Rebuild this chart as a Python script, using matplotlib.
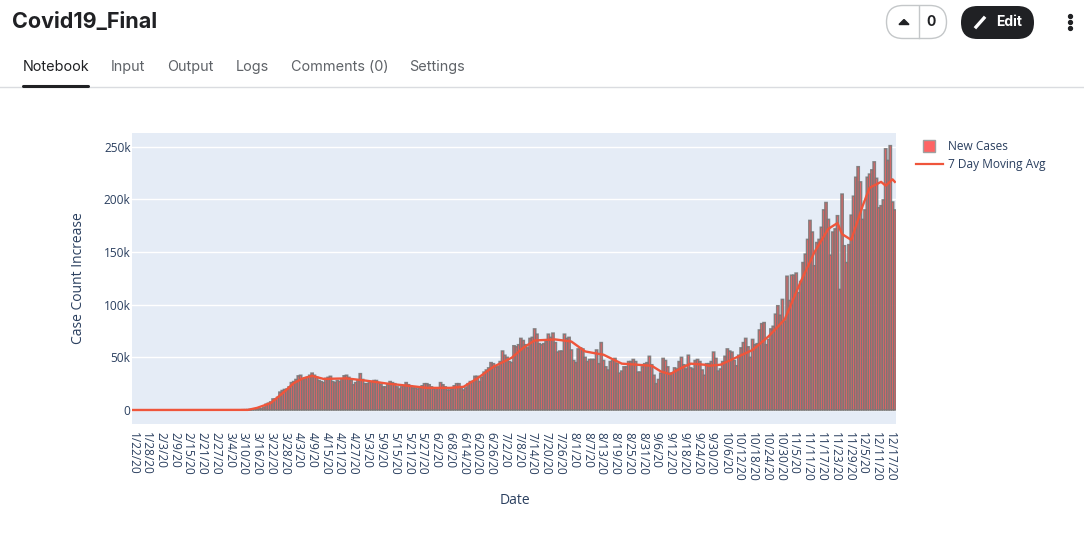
import matplotlib

matplotlib.use("Agg")
import matplotlib.pyplot as plt
import pandas as pd
from matplotlib.lines import Line2D
from matplotlib.patches import FancyBboxPatch, Polygon

# daily new cases in thousands (Jan 22 onwards)
cases_jan_feb = [
    0, 0, 0, 0, 0, 0, 0, 0, 0, 0, 0, 0, 0, 0, 0, 0, 0, 0, 0, 0,
    0, 0, 0, 0, 0, 0, 0, 0, 0, 0, 0, 0, 0, 0, 0, 0, 0, 0, 0,
]
cases_mar = [
    0.02, 0.02, 0.03, 0.03, 0.07, 0.07, 0.12, 0.1, 0.12, 0.3, 0.3, 0.4, 0.5, 0.6, 0.7, 0.8,
    1.2, 1.3, 2.5, 5.5, 6.5, 7.7, 10.5, 10.5, 12, 17, 18.5, 19.5, 19.8, 22, 26,
]
cases_apr = [
    27, 29, 32.4, 33, 29, 30, 31, 33, 35, 33, 31, 28, 27, 26, 30,
    31, 32, 27, 26, 28, 27, 29, 32.5, 33, 31, 28, 24, 26, 28, 34.5,
]
cases_may = [
    29, 25, 25, 26, 27, 28, 28, 26, 24, 22, 22, 24, 27, 26, 25, 22,
    20, 22, 23, 26, 24, 23, 21, 21, 20, 21, 23, 25, 25, 24, 22,
]
cases_jun = [
    20, 21, 21, 26, 24, 22, 19, 19, 20, 23, 25, 25, 21, 19, 21,
    25, 27, 27, 32, 32, 27, 31, 36, 38, 40, 45, 44, 41, 41, 46,
]
cases_summer = [
    56, 52, 50, 46, 45, 61, 60, 62, 68, 66, 62, 59, 68, 69, 77, 72, 63, 62,
    63, 65, 72, 69, 73, 64, 55, 56, 56, 72, 68, 69, 57, 47, 45, 58, 59, 58,
    50, 46, 48, 48, 48, 57, 44, 64, 47, 41, 38, 46, 47, 49, 44, 35, 37, 41,
]
cases_autumn = [
    41, 46, 46, 48, 46, 36, 36, 41, 44, 45, 51, 43, 33, 25, 29, 35, 49, 47, 41,
    35, 35, 40, 39, 46, 50, 43, 39, 52, 40, 39, 47, 48, 46, 38, 33, 44, 44, 46,
    55, 49, 37, 39, 46, 51, 58, 56, 55, 47, 42, 52, 59, 64, 68, 60, 50,
]
cases_winter = [
    67, 62, 63, 76, 82, 83, 62, 67, 77, 79.5, 91, 99, 90, 105, 84, 127, 104, 128,
    128, 130, 111.5, 122, 140, 148, 162, 180, 169, 137, 159, 162, 173.5, 190, 197,
    181, 147, 169, 172, 184.5, 114.5, 205, 156, 140, 157, 185, 203, 221, 231, 216.6,
    181, 190, 221, 224, 228, 235.6, 220, 192, 194, 199.5, 248, 237, 251, 197.5, 190,
]
new_cases = (
    cases_jan_feb + cases_mar + cases_apr + cases_may
    + cases_jun + cases_summer + cases_autumn + cases_winter
)

# moving average, vertices
ma_days = [
    0, 50, 54, 60, 66, 70, 74, 78, 83, 93, 101, 111, 120, 128, 138, 144, 150, 157,
    165, 170, 175, 184, 191, 197, 201, 205, 213, 226, 230, 234, 239, 243, 249, 251,
    256, 261, 267, 270, 277, 284, 291, 297, 303, 307, 309, 313, 318, 321, 326, 328,
    331, 332,
]
ma_values = [
    0, 0.1, 2, 6.6, 17.5, 25.5, 30, 32.4, 29.5, 30, 28, 25, 23, 21, 21, 22, 30, 41,
    49.6, 59, 66, 67, 65, 55.6, 54, 52.5, 44, 42, 36.6, 34, 40, 44, 43, 42,
    43, 48, 54, 57, 70, 86, 122, 150, 172, 177.5, 167, 161.5, 194, 211, 216.6, 213,
    219, 216.6,
]
y_ticks = [0, 50, 100, 150, 200, 250]
y_labels = ["0", "50k", "100k", "150k", "200k", "250k"]
tabs = ["Notebook", "Input", "Output", "Logs", "Comments (0)", "Settings"]
tab_x = [23, 111, 167, 236, 291, 409]

TEXT = "#2a3f5f"
W, H = 1084, 535

fig = plt.figure(figsize=(W / 100, H / 100), dpi=100, facecolor="white")
plt.rcParams["font.family"] = ["Open Sans", "DejaVu Sans"]

# plot area
ax = fig.add_axes([132 / W, 1 - 424 / H, 764 / W, 291 / H], facecolor="#E5ECF6")
days = list(range(len(new_cases)))
bars = ax.bar(days, new_cases, width=1.0, color="#FF5050", edgecolor="#777777", linewidth=1.1, alpha=0.88, zorder=2)
for bar in bars:
    bar.set_snap(False)
ax.plot(ma_days, ma_values, color="#EF553B", linewidth=1.7, zorder=3)
ax.set_xlim(-0.5, 332.5)
ax.set_ylim(-13.3, 263)

dates = pd.date_range("2020-01-22", periods=len(new_cases))
tick_pos = days[::6]
ax.set_xticks(tick_pos)
ax.set_xticklabels(
    [f"{dates[i].month}/{dates[i].day}/20" for i in tick_pos],
    rotation=-90, fontsize=8.6, color=TEXT,
)
ax.set_yticks(y_ticks)
ax.set_yticklabels(y_labels, fontsize=8.6, color=TEXT)
ax.tick_params(axis="both", length=0)
ax.tick_params(axis="x", pad=6)
ax.tick_params(axis="y", pad=1)
ax.grid(True, axis="y", color="white", linewidth=1, zorder=1)
ax.set_axisbelow(True)
for spine in ax.spines.values():
    spine.set_visible(False)

handles = [
    Line2D([], [], marker="s", linestyle="none", markersize=8, markerfacecolor="#FF6464",
           markeredgecolor="#a0a0a0", label="New Cases"),
    Line2D([], [], color="#EF553B", linewidth=1.6, label="7 Day Moving Avg"),
]
ax.legend(
    handles=handles, frameon=False, fontsize=8.6, labelcolor=TEXT, handlelength=2.25,
    handletextpad=0.45, labelspacing=0.4, borderpad=0, borderaxespad=0,
    loc="upper left", bbox_to_anchor=(916 / W, 1 - 140 / H),
    bbox_transform=fig.transFigure,
)

# page chrome drawn in pixel coordinates
ui = fig.add_axes([0, 0, 1, 1], facecolor="none")
ui.set_xlim(0, W)
ui.set_ylim(H, 0)
ui.axis("off")

ui.text(515, 500, "Date", fontsize=10, color=TEXT, ha="center", va="center")
ui.text(78, 278, "Case Count Increase", fontsize=10, color=TEXT, rotation=90, ha="center", va="center")

ui.text(12, 22, "Covid19_Final", family="Inter", fontsize=15.5, fontweight="bold", color="#202124", va="center")
for i, (label, x) in enumerate(zip(tabs, tab_x)):
    ui.text(x, 71, label, family="Inter", fontsize=10.4, va="baseline",
            color="#202124" if i == 0 else "#5f6368")
ui.plot([0, W], [87, 87], color="#dadce0", linewidth=1)
ui.plot([23, 88], [85.5, 85.5], color="#202124", linewidth=2.2, solid_capstyle="round")

ui.add_patch(FancyBboxPatch((886.5, 5.5), 60, 33, boxstyle="round,pad=0,rounding_size=16.5",
                            facecolor="white", edgecolor="#c4c7c9", linewidth=1))
ui.plot([918.5, 918.5], [6, 38], color="#c4c7c9", linewidth=1)
ui.add_patch(Polygon([[899, 24.5], [909, 24.5], [904, 19.5]], color="#202124"))
ui.text(931, 22, "0", family="Inter", fontsize=10, fontweight="bold", color="#202124", ha="center", va="center")

ui.add_patch(FancyBboxPatch((961, 6), 73, 33, boxstyle="round,pad=0,rounding_size=16.5",
                            facecolor="#202124", edgecolor="none"))
ui.plot([976, 984], [27, 18], color="white", linewidth=2.4)
ui.text(996, 22, "Edit", family="Inter", fontsize=10, fontweight="bold", color="white", va="center")
ui.plot([1070, 1070, 1070], [16, 22, 28], linestyle="none", marker="o", markersize=2.8, color="#202124")

fig.savefig("out.png", dpi=100, facecolor="white")
plt.close(fig)
